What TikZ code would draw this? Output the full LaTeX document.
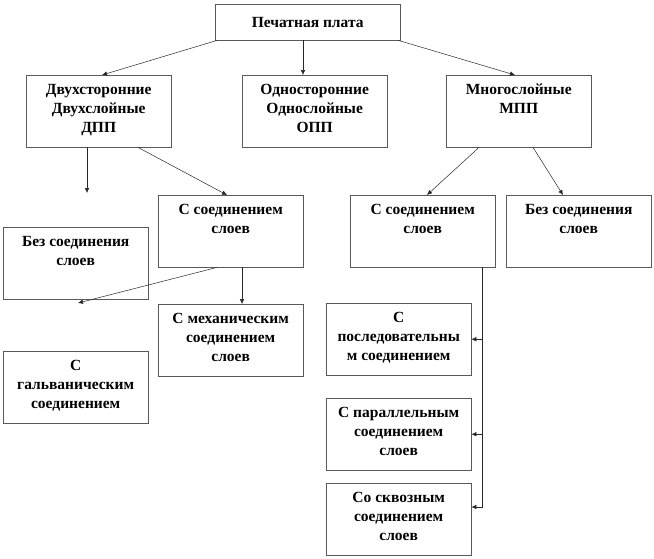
\documentclass[tikz,border=0pt]{standalone}
\usepackage{fontspec}
\setmainfont{Liberation Serif}
\usetikzlibrary{calc,arrows.meta,shadows}
\newcommand{\bxtext}[1]{\parbox[t][72pt][t]{145pt}{\centering\fontsize{15.5}{19}\selectfont\bfseries\rule{0pt}{19.5pt}#1}}
\begin{document}
\begin{tikzpicture}[x=1pt,y=-1pt,
  box/.style={draw=black!65, line width=0.4pt, fill=white, inner sep=0pt,
    anchor=north west, minimum width=145pt, minimum height=72pt,
    drop shadow={shadow xshift=1pt, shadow yshift=-1pt, fill=black, opacity=1}},
  conn/.style={draw=black!85, line width=0.5pt, -{Latex[length=5pt,width=4.5pt]}}]
\useasboundingbox (0,0) rectangle (654,558);
% boxes
\node[box, minimum width=185pt, minimum height=36pt, font=\fontsize{15.5}{19}\selectfont\bfseries] (top) at (215,4) {Печатная плата};
\node[box] (dvu) at (26,75) {\bxtext{Двухсторонние\\Двухслойные\\ДПП}};
\node[box] (odn) at (242,75) {\bxtext{Односторонние\\Однослойные\\ОПП}};
\node[box] (mno) at (446,75) {\bxtext{Многослойные\\МПП}};
\node[box] (sL) at (158,195) {\bxtext{С соединением\\слоев}};
\node[box] (bezL) at (3,227) {\bxtext{Без соединения\\слоев}};
\node[box] (mech) at (158,304) {\bxtext{С механическим\\соединением\\слоев}};
\node[box] (galv) at (3,351) {\bxtext{С\\гальваническим\\соединением}};
\node[box] (sR) at (350,195) {\bxtext{С соединением\\слоев}};
\node[box] (bezR) at (506,195) {\bxtext{Без соединения\\слоев}};
\node[box] (posl) at (326,303) {\bxtext{С\\последовательны\\м соединением}};
\node[box] (par) at (326,398) {\bxtext{С параллельным\\соединением\\слоев}};
\node[box] (skv) at (326,483) {\bxtext{Со сквозным\\соединением\\слоев}};
% free ends
\coordinate (f1) at (87,193);
\coordinate (f2) at (78,303);
% connectors
\draw[conn] ($(top.south west)+(2,0)$) -- ($(dvu.north west)+(76,0)$);
\draw[conn] ($(top.south west)+(88,0)$) -- ($(odn.north west)+(61,0)$);
\draw[conn] ($(top.south east)+(-2,0)$) -- ($(mno.north west)+(69,0)$);
\draw[conn] ($(dvu.south west)+(61,0)$) -- (f1);
\draw[conn] ($(dvu.south west)+(112,0)$) -- ($(sL.north west)+(69,0)$);
\draw[conn] ($(mno.south west)+(33,0)$) -- ($(sR.north west)+(77,0)$);
\draw[conn] ($(mno.south west)+(87,0)$) -- ($(bezR.north west)+(57,0)$);
\draw[conn] ($(sL.south west)+(59,0)$) -- (f2);
\draw[conn] ($(sL.south west)+(84,0)$) -- ($(mech.north west)+(84,0)$);
\coordinate (trunk) at ($(sR.south west)+(132,0)$);
\draw[conn] (trunk) |- ($(skv.north east)+(0,24)$);
\draw[conn] (trunk |- posl.east) -- (posl.east);
\draw[conn] (trunk |- par.east) -- (par.east);
\end{tikzpicture}
\end{document}
